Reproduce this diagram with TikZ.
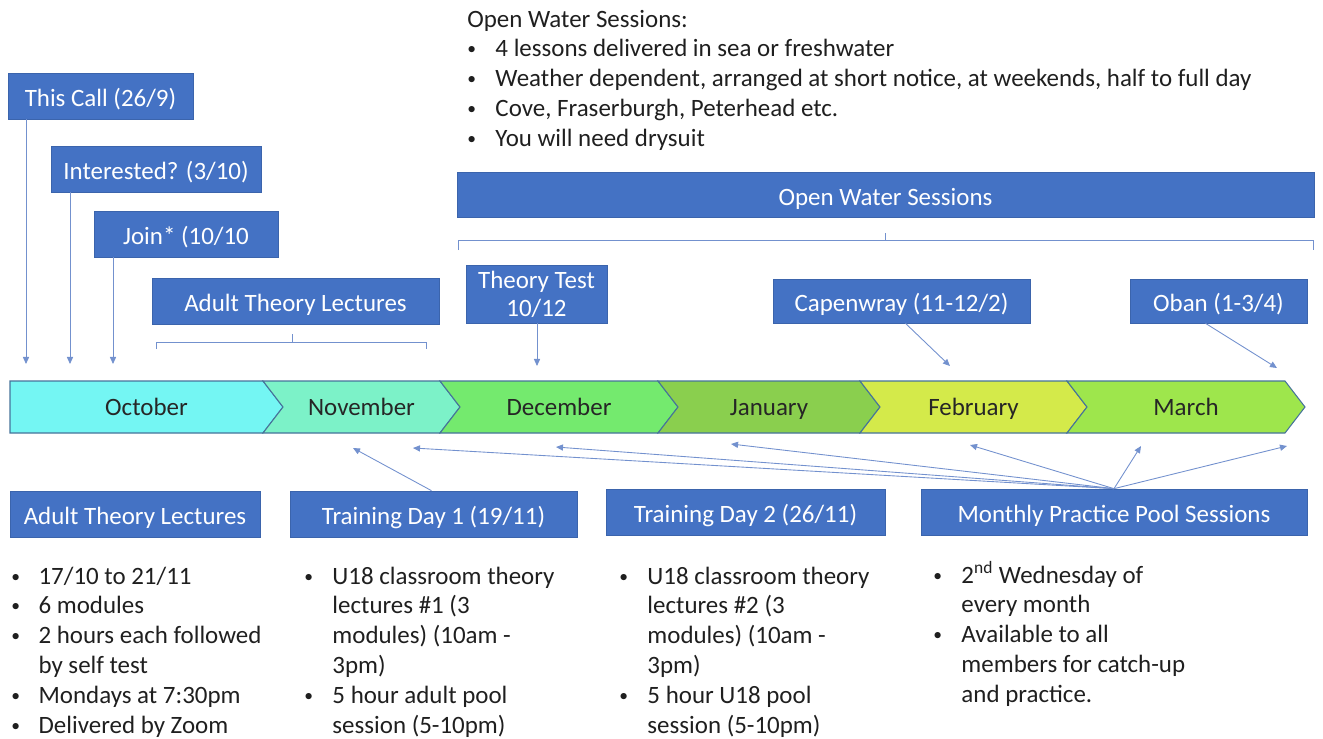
\documentclass[tikz,border=0pt]{standalone}
\usepackage{fontspec}
\setmainfont{Carlito}
\usetikzlibrary{arrows.meta,positioning}

\definecolor{boxblue}{HTML}{4472C4}
\definecolor{boxedge}{HTML}{3B64AC}
\definecolor{linkblue}{HTML}{7391CE}
\definecolor{barline}{HTML}{46739A}
\definecolor{octc}{HTML}{74F6F3}
\definecolor{novc}{HTML}{7CF2C8}
\definecolor{decc}{HTML}{74EA6E}
\definecolor{janc}{HTML}{8ACF4E}
\definecolor{febc}{HTML}{D4EA4A}
\definecolor{marc}{HTML}{9EE64C}

\newcommand{\blt}{\raisebox{0.08em}{\fontsize{10pt}{10pt}\selectfont\textbullet}}

\begin{document}
\begin{tikzpicture}[
  x=0.02cm, y=-0.02cm,
  box/.style={rectangle, draw=boxedge, fill=boxblue, text=white, inner sep=0pt, minimum height=0.92cm, align=center, text height=1.4em, text depth=0.2em, font=\fontsize{14.2pt}{16pt}\selectfont},
  link/.style={-{Triangle[length=4pt,width=3.5pt]}, draw=linkblue, line width=0.5pt},
  brace/.style={draw=linkblue, line width=0.5pt},
  notes/.style={anchor=base west, inner sep=0pt, text=black!88, font=\fontsize{14.2pt}{17pt}\selectfont},
  month/.style={text height=1.2em, text depth=0.2em, font=\fontsize{14.2pt}{15pt}\selectfont, text=black!85}
]
\useasboundingbox (0,0) rectangle (1323,738);

\foreach \mname/\l/\r/\n/\col [count=\i] in {October/10/263/0/octc, November/263/440/20/novc, December/440/658/20/decc, January/658/860/20/janc, February/860/1067/20/febc, March/1067/1285/20/marc} {
  \filldraw[fill=\col, draw=barline, line width=0.6pt] (\l,381) -- (\r,381) -- (\r+20,407) -- (\r,433) -- (\l,433) -- (\l+\n,407) -- cycle;
  \node[month] (m\i) at ({(\l+\r)/2+10},407) {\mname};
}

\node[notes] (owtext) at (467,27) {\begin{tabular}[t]{@{}p{16pt}@{}l@{}}
\multicolumn{2}{@{}l@{}}{Open Water Sessions:}\\
\blt & 4 lessons delivered in sea or freshwater\\
\blt & Weather dependent, arranged at short notice, at weekends, half to full day\\
\blt & Cove, Fraserburgh, Peterhead etc.\\
\blt & You will need drysuit
\end{tabular}};

\node[box, minimum width=3.70cm] (call) at (100.5,96) {This Call (26/9)};
\node[box, minimum width=4.20cm] (intr) at (156,169) {Interested? (3/10)};
\node[box, minimum width=3.68cm] (join) at (186,234) {Join* (10/10};
\node[box, minimum width=5.74cm] (atltop) at (295.5,301) {Adult Theory Lectures};
\node[box, minimum width=17.14cm, minimum height=0.90cm] (ows) at (885.5,194.5) {Open Water Sessions};
\node[box, minimum width=2.82cm, minimum height=1.16cm, text height={}, text depth={}] (test) at (536.5,294) {Theory Test\\10/12};
\node[box, minimum width=5.14cm, minimum height=0.88cm] (cape) at (901.5,301) {Capenwray (11-12/2)};
\node[box, minimum width=3.54cm, minimum height=0.88cm] (oban) at (1218.5,301) {Oban (1-3/4)};

\node[box, minimum width=5.00cm] (atlbot) at (135,514) {Adult Theory Lectures};
\node[box, minimum width=5.74cm] (td1) at (433.5,514) {Training Day 1 (19/11)};
\node[box, minimum width=5.58cm] (td2) at (745.5,512) {Training Day 2 (26/11)};
\node[box, minimum width=7.72cm] (pool) at (1114,512) {Monthly Practice Pool Sessions};

\draw[brace] (156,349) -- (156,342) -- (426,342) -- (426,349);
\draw[brace] (292,342) -- (292,334);
\draw[brace] (458,250) -- (458,240) -- (1313,240) -- (1313,250);
\draw[brace] (885,240) -- (885,233);

\coordinate (tcall) at (26,364);
\coordinate (tintr) at (70,364);
\coordinate (tjoin) at (113,364);
\coordinate (ttest) at (537,366);
\coordinate (tcape) at (950,366);
\coordinate (toban) at (1277,368);
\coordinate (tnov) at (353,448);
\coordinate (pnov) at (413,448);
\coordinate (pdec) at (556,447);
\coordinate (pjan) at (731,444);
\coordinate (pfeb) at (970,445);
\coordinate (pmara) at (1141,446);
\coordinate (pmarb) at (1287,446);

\draw[link] (call.south west -| tcall) -- (tcall);
\draw[link] (intr.south west -| tintr) -- (tintr);
\draw[link] (join.south west -| tjoin) -- (tjoin);
\draw[link] (test.south west -| ttest) -- (ttest);
\draw[link] ([xshift=0.08cm]cape.south) -- (tcape);
\draw[link] ([xshift=-0.26cm]oban.south) -- (toban);
\draw[link] ([xshift=-0.04cm]td1.north) -- (tnov);
\foreach \t in {pnov,pdec,pjan,pfeb,pmara,pmarb}
  \draw[link] (pool.north) -- (\t);

\node[notes] (atlnotes) at (11,584) {\begin{tabular}[t]{@{}p{15.5pt}@{}l@{}}
\blt & 17/10 to 21/11\\
\blt & 6 modules\\
\blt & 2 hours each followed\\
 & by self test\\
\blt & Mondays at 7:30pm\\
\blt & Delivered by Zoom
\end{tabular}};
\node[notes] (td1notes) at (304,584) {\begin{tabular}[t]{@{}p{16pt}@{}l@{}}
\blt & U18 classroom theory\\
 & lectures \#1 (3\\
 & modules) (10am -\\
 & 3pm)\\
\blt & 5 hour adult pool\\
 & session (5-10pm)
\end{tabular}};
\node[notes] (td2notes) at (619,584) {\begin{tabular}[t]{@{}p{16pt}@{}l@{}}
\blt & U18 classroom theory\\
 & lectures \#2 (3\\
 & modules) (10am -\\
 & 3pm)\\
\blt & 5 hour U18 pool\\
 & session (5-10pm)
\end{tabular}};
\node[notes] (poolnotes) at (933,583) {\begin{tabular}[t]{@{}p{16pt}@{}l@{}}
\blt & 2\textsuperscript{nd} Wednesday of\\
 & every month\\
\blt & Available to all\\
 & members for catch-up\\
 & and practice.
\end{tabular}};
\end{tikzpicture}
\end{document}
